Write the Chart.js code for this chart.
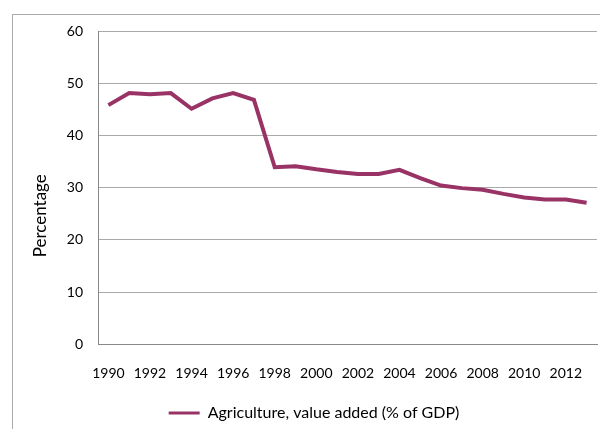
<!DOCTYPE html>
<html>
<head>
<meta charset="utf-8">
<script src="https://cdn.jsdelivr.net/npm/chart.js@4"></script>
<style>
  html, body { margin: 0; padding: 0; background: #fff; }
  body { width: 600px; height: 429px; overflow: hidden; position: relative; }
  #frame { position: absolute; left: 12px; top: 14px; width: 610px; height: 430px; border: 1px solid #aaa; }
  #wrap { position: absolute; left: 0; top: 0; width: 608px; height: 421px; }
</style>
</head>
<body>
<div id="frame"><div id="wrap"><canvas id="agriChart"></canvas></div></div>
<script>
const years = ['1990', '1991', '1992', '1993', '1994', '1995', '1996', '1997', '1998', '1999', '2000', '2001',
               '2002', '2003', '2004', '2005', '2006', '2007', '2008', '2009', '2010', '2011', '2012', '2013'];
const agriValues = [45.8, 48.1, 47.9, 48.1, 45.1, 47.1, 48.1, 46.8, 33.9, 34.1, 33.5, 33.0,
                    32.6, 32.6, 33.4, 31.8, 30.4, 29.9, 29.6, 28.8, 28.1, 27.7, 27.7, 27.1];
const yTicks = [0, 10, 20, 30, 40, 50, 60];
const yTitle = 'Percentage';

const lineColor = '#993366';
const tickFont = { family: 'Lato', size: 14 };

// y title sits a bit below the middle of the plot, like the Excel original
const yTitlePlugin = {
    id: 'yTitle',
    afterDraw(chart) {
        const { ctx, chartArea, scales } = chart;
        ctx.save();
        ctx.font = '17px Lato';
        ctx.fillStyle = '#000';
        ctx.textAlign = 'center';
        ctx.textBaseline = 'middle';
        ctx.translate(scales.y.left + 10, chartArea.top + (chartArea.bottom - chartArea.top) * 0.59);
        ctx.rotate(-Math.PI / 2);
        ctx.fillText(yTitle, 0, 0);
        ctx.restore();
    }
};

document.addEventListener("DOMContentLoaded", function() {
    new Chart(document.getElementById('agriChart'), {
        type: 'line',
        data: {
            labels: years,
            datasets: [{
                label: 'Agriculture, value added (% of GDP)',
                data: agriValues,
                borderColor: lineColor,
                backgroundColor: lineColor,
                borderWidth: 4,
                pointRadius: 0,
                tension: 0,
                fill: false
            }]
        },
        plugins: [yTitlePlugin],
        options: {
            responsive: true,
            maintainAspectRatio: false,
            animation: false,
            layout: { padding: { left: 18, right: 24, top: 16, bottom: 5 } },
            plugins: {
                tooltip: { enabled: false },
                legend: {
                    position: 'bottom',
                    labels: {
                        color: '#000',
                        font: { family: 'Lato', size: 16 },
                        boxWidth: 31,
                        boxHeight: 3,
                        padding: 2,
                        generateLabels(chart) {
                            return Chart.defaults.plugins.legend.labels.generateLabels(chart).map(item => {
                                item.lineWidth = 0;
                                item.fillStyle = lineColor;
                                return item;
                            });
                        }
                    }
                }
            },
            scales: {
                x: {
                    offset: true,
                    grid: { display: false, drawTicks: false },
                    border: { color: '#888' },
                    ticks: {
                        autoSkip: false,
                        maxRotation: 0,
                        color: '#000',
                        font: tickFont,
                        padding: 21,
                        callback: function(value, index) {
                            return index % 2 === 0 ? years[index] : '';
                        }
                    }
                },
                y: {
                    min: yTicks[0],
                    max: yTicks[yTicks.length - 1],
                    grid: { color: '#aaaaaa', drawTicks: false },
                    border: { color: '#888' },
                    afterBuildTicks: function(scale) {
                        scale.ticks = yTicks.map(v => ({ value: v }));
                    },
                    afterFit: function(scale) {
                        scale.width = 67;
                        scale.paddingTop = 8;
                        scale.paddingBottom = 8;
                    },
                    ticks: { color: '#000', font: tickFont, padding: 15 }
                }
            }
        }
    });
});
</script>
</body>
</html>
